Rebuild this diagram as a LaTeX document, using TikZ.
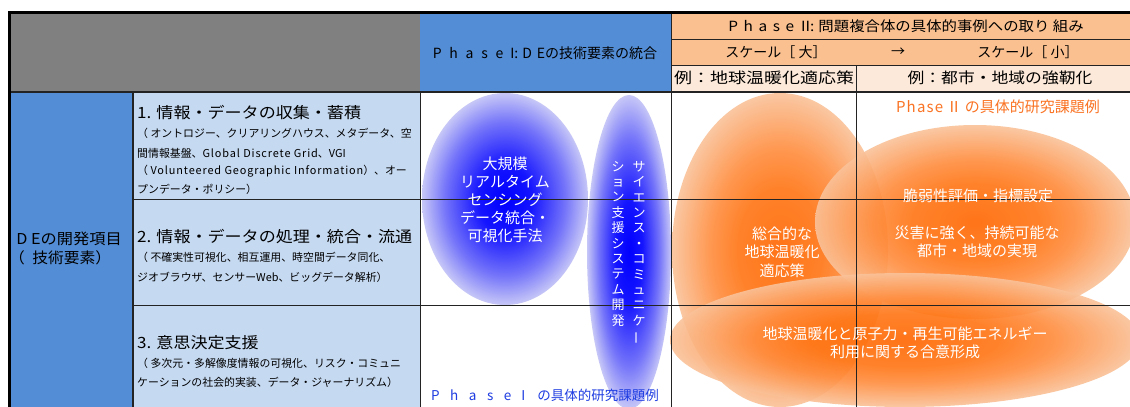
\documentclass[tikz,border=0pt]{standalone}
\usepackage{fontspec}
\setmainfont{Noto Sans CJK JP}
\newcommand\tracked[2]{{\addfontfeature{LetterSpace=#1}#2}}
\newcommand\wider[1]{\addfontfeature{FakeStretch=#1}}
\definecolor{hdrgray}{RGB}{128,128,128}
\definecolor{deepblue}{RGB}{83,141,213}
\definecolor{paleblue}{RGB}{197,217,241}
\definecolor{hdrorange}{RGB}{250,192,144}
\definecolor{hdrpeach}{RGB}{253,233,217}
\definecolor{gridline}{RGB}{35,35,35}
\definecolor{titleblue}{RGB}{30,60,225}
\definecolor{titleorange}{RGB}{250,115,35}
\pgfdeclareradialshading{blueglow}{\pgfpoint{0bp}{0bp}}{rgb(0bp)=(0,0,1); rgb(8bp)=(0.08,0.08,1); rgb(18bp)=(0.45,0.45,0.98); rgb(25bp)=(0.78,0.78,0.97); rgb(50bp)=(0.78,0.78,0.97)}
\pgfdeclareradialshading{orangeglow}{\pgfpoint{0bp}{0bp}}{rgb(0bp)=(1,0.4,0); rgb(10bp)=(1,0.46,0.08); rgb(16bp)=(1,0.55,0.24); rgb(25bp)=(0.98,0.76,0.6); rgb(50bp)=(0.98,0.76,0.6)}
\tikzset{
  cellline/.style={draw=gridline, line width=0.9pt},
  hdr/.style={inner sep=0pt, font=\fontsize{14}{17}\selectfont},
  heading/.style={inner sep=0pt, anchor=west, font=\fontsize{15.5}{18}\selectfont\wider{1.1}},
  small/.style={inner sep=0pt, anchor=west, font=\fontsize{10.9}{13}\selectfont},
  whitetxt/.style={inner sep=0pt, text=white, align=center, font=\fontsize{15}{18}\selectfont},
  vcol/.style={inner sep=0pt, anchor=north, text=white, align=center, font=\fontsize{13}{15.4}\selectfont},
  glowblue/.style={shading=blueglow},
  gloworange/.style={shading=orangeglow, opacity=0.9},
}
\begin{document}
\begin{tikzpicture}[x=1pt,y=-1pt]
\useasboundingbox (0,0) rectangle (1130,407);
\fill[white] (0,0) rectangle (1130,407);
\begin{scope}
\clip (0,0) rectangle (1130,407);
% cell fills
\fill[hdrgray] (11,13) rectangle (420,92);
\fill[deepblue] (420,13) rectangle (671,92);
\fill[hdrorange] (671,13) rectangle (1135,65);
\fill[hdrpeach] (671,65) rectangle (1135,92);
\fill[deepblue] (11,92) rectangle (133,410);
\fill[paleblue] (133,92) rectangle (420,410);
% blue ellipses
\shade[glowblue] (505,199) ellipse [x radius=83pt, y radius=106pt];
\shade[glowblue] (629,252) ellipse [x radius=42pt, y radius=157pt];
% orange ellipses
\shade[gloworange] (780,250) ellipse [x radius=108pt, y radius=157pt];
\shade[gloworange] (975,222) ellipse [x radius=160pt, y radius=97pt];
\shade[gloworange] (905,340) ellipse [x radius=235pt, y radius=67pt];
% grid lines
\draw[cellline, line width=1.4pt] (11,92) -- (1135,92);
\draw[cellline] (671,39) -- (1135,39);
\draw[cellline] (671,65) -- (1135,65);
\draw[cellline] (420,92) -- (420,410);
\draw[cellline] (671,13) -- (671,410);
\draw[cellline] (856,65) -- (856,410);
\draw[cellline] (133,199) -- (1135,199);
\draw[cellline] (133,305) -- (1135,305);
\draw[cellline, line width=1.4pt] (133,92) -- (133,410);
% outer frame
\draw[line width=3pt] (9.5,410) -- (9.5,12) -- (1135,12);
\end{scope}
% header texts
\node[hdr] (hPI) at (545,53) {\tracked{55}{Phase}\hspace{7pt}I:\hspace{4pt}\tracked{35}{DE}の技術要素の統合};
\node[hdr, font=\fontsize{14}{17}\selectfont\wider{1.1}] (hPII) at (906,26) {\tracked{40}{Phase}\hspace{7pt}II:\hspace{4pt}問題複合体の具体的事例への取り 組み};
\node[hdr] (hBig) at (776,52) {スケール［ 大］};
\node[hdr] (hArr) at (898,52) {→};
\node[hdr] (hSmall) at (1028,52) {スケール［ 小］};
\node[hdr, font=\fontsize{15}{17}\selectfont\wider{1.2}] (hEx1) at (764,78) {例：地球温暖化適応策};
\node[hdr, font=\fontsize{15}{17}\selectfont\wider{1.12}] (hEx2) at (1000,78) {例：都市・地域の強靭化};
% left column
\node[inner sep=0pt, font=\fontsize{15}{18}\selectfont\wider{1.08}] (lDE) at (69,239) {\tracked{25}{DE}の開発項目};
\node[inner sep=0pt, anchor=west, font=\fontsize{15}{18}\selectfont\wider{1.05}] (lDE2) at (9,258) {（\hspace{0.5em}技術要素）};
% row 1
\node[heading] (r1h) at (137,113) {1. 情報・データの収集・蓄積};
\node[small] (r1a) at (137,133) {（ オントロジー、クリアリングハウス、メタデータ、空};
\node[small] (r1b) at (137,153) {間情報基盤、\tracked{8}{Global Discrete Grid}、VGI};
\node[small] (r1c) at (137,171) {（ \tracked{8}{Volunteered Geographic Information}）、オー};
\node[small] (r1d) at (137,189) {プンデータ・ポリシー）};
% row 2
\node[heading] (r2h) at (137,237) {2. 情報・データの処理・統合・流通};
\node[small] (r2a) at (137,257) {（ 不確実性可視化、相互運用、時空間データ同化、};
\node[small] (r2b) at (137,277) {ジオブラウザ、センサーWeb、ビッグデータ解析）};
% row 3
\node[heading] (r3h) at (137,343) {3. 意思決定支援};
\node[small] (r3a) at (137,363) {（ 多次元・多解像度情報の可視化、リスク・コミュニ};
\node[small] (r3b) at (137,382) {ケーションの社会的実装、データ・ジャーナリズム）};
% Phase I examples
\node[whitetxt] (e1) at (505,200) {大規模\\リアルタイム\\センシング\\データ統合・\\可視化手法};
\node[vcol] (e2r) at (639,161) {サ\\イ\\エ\\ン\\ス\\・\\コ\\ミ\\ュ\\ニ\\ケ\\\rotatebox[origin=c]{90}{ー}};
\node[vcol] (e2l) at (618,161) {シ\\ョ\\ン\\支\\援\\シ\\ス\\テ\\ム\\開\\発};
\node[inner sep=0pt, text=titleblue, font=\fontsize{13.5}{16}\selectfont] (pI) at (545,395) {\tracked{78}{Phase}\hspace{10pt}I\hspace{12pt}の具体的研究課題例};
% Phase II examples
\node[inner sep=0pt, text=titleorange, font=\fontsize{15}{18}\selectfont] (pII) at (998,107) {\tracked{8}{Phase} Ⅱ の具体的研究課題例};
\node[whitetxt, font=\fontsize{15}{18.5}\selectfont] (oA) at (782,252) {総合的な\\地球温暖化\\適応策};
\node[whitetxt] (oB1) at (978,196) {脆弱性評価・指標設定};
\node[whitetxt] (oB2) at (977,242) {災害に強く、持続可能な\\都市・地域の実現};
\node[whitetxt] (oC) at (905,343) {地球温暖化と原子力・再生可能エネルギー\\利用に関する合意形成};
\end{tikzpicture}
\end{document}
